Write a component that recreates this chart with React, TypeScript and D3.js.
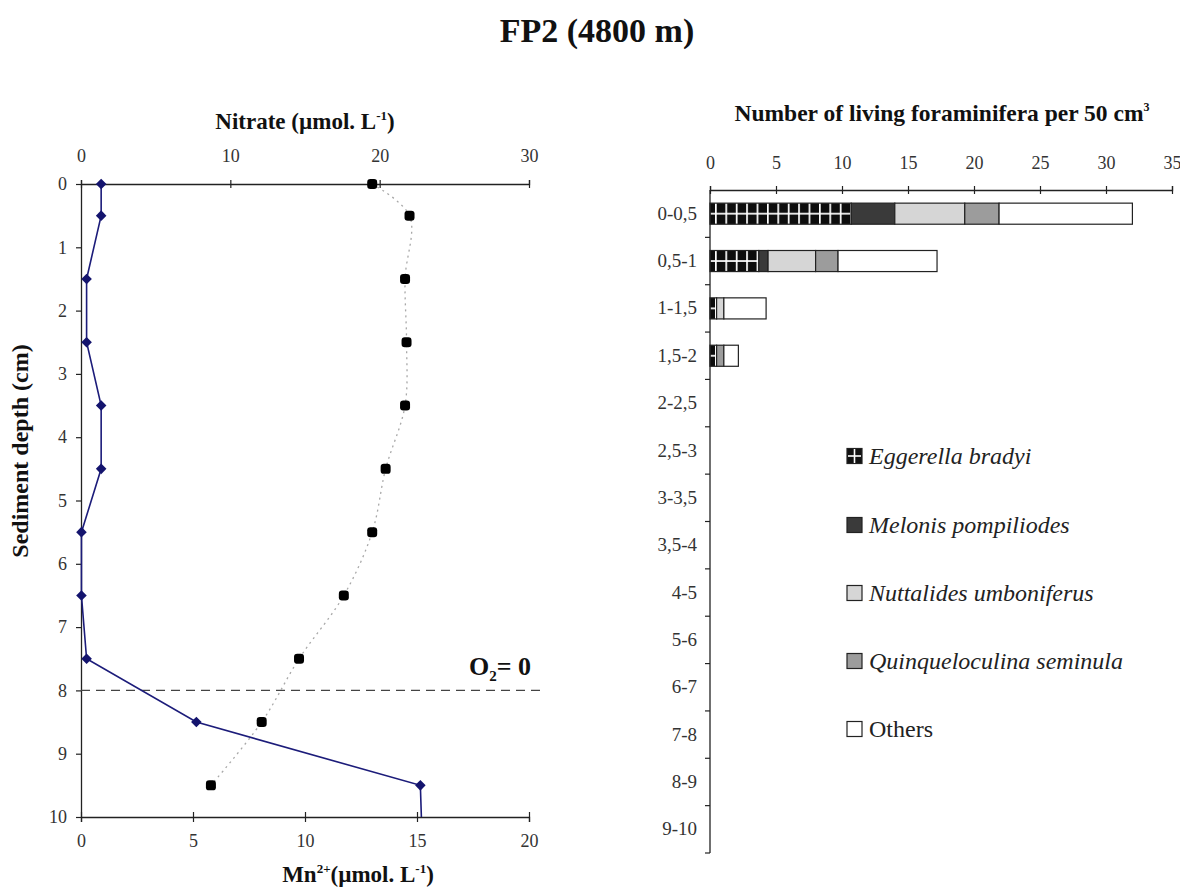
import React, { useEffect, useRef } from 'react';
import * as d3 from 'd3';

// ---------- Left panel data ----------
const nitrateDepths = [0, 0.5, 1.5, 2.5, 3.5, 4.5, 5.5, 6.5, 7.5, 8.5, 9.5];
const nitrateValues = [19.5, 22.0, 21.7, 21.8, 21.7, 20.4, 19.5, 17.6, 14.6, 12.1, 8.7];
const mnDepths = [0, 0.5, 1.5, 2.5, 3.5, 4.5, 5.5, 6.5, 7.5, 8.5, 9.5, 10.6];
const mnValues = [0.9, 0.9, 0.25, 0.25, 0.9, 0.9, 0.02, 0.02, 0.25, 5.15, 15.15, 15.25];
const nitrateTicks = [0, 10, 20, 30];
const mnTicks = [0, 5, 10, 15, 20];
const depthTicks = [0, 1, 2, 3, 4, 5, 6, 7, 8, 9, 10];
const oxygenZeroDepth = 8;

// ---------- Right panel data ----------
const intervals = ['0-0,5', '0,5-1', '1-1,5', '1,5-2', '2-2,5', '2,5-3', '3-3,5', '3,5-4', '4-5', '5-6', '6-7', '7-8', '8-9', '9-10'];
const eggerella = [10.7, 3.7, 0.5, 0.5, 0, 0, 0, 0, 0, 0, 0, 0, 0, 0];
const melonis = [3.3, 0.7, 0, 0, 0, 0, 0, 0, 0, 0, 0, 0, 0, 0];
const nuttalides = [5.3, 3.6, 0.55, 0, 0, 0, 0, 0, 0, 0, 0, 0, 0, 0];
const quinqueloculina = [2.6, 1.7, 0, 0.55, 0, 0, 0, 0, 0, 0, 0, 0, 0, 0];
const others = [10.1, 7.5, 3.2, 1.1, 0, 0, 0, 0, 0, 0, 0, 0, 0, 0];
const speciesKeys = ['egg', 'mel', 'nut', 'quin', 'oth'];
const speciesNames = ['Eggerella bradyi', 'Melonis pompiliodes', 'Nuttalides umboniferus', 'Quinqueloculina seminula', 'Others'];
const speciesItalic = [true, true, true, true, false];
const speciesColors = ['#111111', '#3a3a3a', '#d6d6d6', '#9c9c9c', '#ffffff'];
const foramTicks = [0, 5, 10, 15, 20, 25, 30, 35];

const FONT = '"Liberation Serif", "Times New Roman", serif';

export default function App() {
  const ref = useRef<SVGSVGElement | null>(null);

  useEffect(() => {
    const svg = d3.select(ref.current);
    svg.selectAll('*').remove();
    svg.attr('font-family', FONT);
    const defs = svg.append('defs');

    // Title
    svg.append('text').attr('x', 597).attr('y', 42).attr('text-anchor', 'middle')
      .attr('font-size', 34).attr('font-weight', 'bold').attr('fill', '#111').text('FP2 (4800 m)');

    // ===== Left panel =====
    const L = { x0: 81, x1: 529, y0: 184, y1: 817 };
    const yDepth = d3.scaleLinear().domain([0, 10]).range([L.y0, L.y1]);
    const xNit = d3.scaleLinear().domain([0, 30]).range([L.x0, L.x1]);
    const xMn = d3.scaleLinear().domain([0, 20]).range([L.x0, L.x1]);

    defs.append('clipPath').attr('id', 'leftclip').append('rect')
      .attr('x', L.x0 - 10).attr('y', L.y0 - 10).attr('width', L.x1 - L.x0 + 30).attr('height', L.y1 - L.y0 + 10);

    const styleAxis = (g: any, fs: number) => {
      g.attr('font-family', FONT);
      g.selectAll('path.domain').attr('stroke', '#222').attr('stroke-width', 1.3);
      g.selectAll('.tick line').attr('stroke', '#222').attr('stroke-width', 1.2);
      g.selectAll('.tick text').attr('font-family', FONT).attr('font-size', fs).attr('fill', '#333');
    };

    // left axis
    const gy = svg.append('g').attr('transform', `translate(${L.x0},0)`)
      .call(d3.axisLeft(yDepth).tickValues(depthTicks).tickFormat(d3.format('d')).tickSize(5).tickSizeOuter(0).tickPadding(9));
    styleAxis(gy, 18);

    // top axis nitrate
    const gt = svg.append('g').attr('transform', `translate(0,${L.y0})`)
      .call(d3.axisTop(xNit).tickValues(nitrateTicks).tickFormat(d3.format('d')).tickSize(4).tickSizeOuter(4).tickPadding(18));
    styleAxis(gt, 18);
    gt.selectAll('.tick line').attr('y2', 4).attr('y1', -4);

    // bottom axis Mn
    const gb = svg.append('g').attr('transform', `translate(0,${L.y1})`)
      .call(d3.axisBottom(xMn).tickValues(mnTicks).tickFormat(d3.format('d')).tickSize(5).tickSizeOuter(5).tickPadding(12));
    styleAxis(gb, 18);
    gb.selectAll('.tick line').attr('y1', -5).attr('y2', 5);

    // axis titles
    const nt = svg.append('text').attr('x', 305).attr('y', 129).attr('text-anchor', 'middle')
      .attr('font-size', 23).attr('font-weight', 'bold').attr('fill', '#111');
    nt.append('tspan').text('Nitrate (µmol. L');
    nt.append('tspan').attr('font-size', 13).attr('dy', -9).text('-1');
    nt.append('tspan').attr('dy', 9).text(')');

    const mt = svg.append('text').attr('x', 358).attr('y', 882).attr('text-anchor', 'middle')
      .attr('font-size', 23).attr('font-weight', 'bold').attr('fill', '#111');
    mt.append('tspan').text('Mn');
    mt.append('tspan').attr('font-size', 13).attr('dy', -9).text('2+');
    mt.append('tspan').attr('dy', 9).text('(µmol. L');
    mt.append('tspan').attr('font-size', 13).attr('dy', -9).text('-1');
    mt.append('tspan').attr('dy', 9).text(')');

    svg.append('text').attr('transform', `translate(28,${451}) rotate(-90)`).attr('text-anchor', 'middle')
      .attr('font-size', 24).attr('font-weight', 'bold').attr('fill', '#111').text('Sediment depth (cm)');

    // O2 = 0 dashed line
    svg.append('line').attr('x1', L.x0).attr('x2', 541)
      .attr('y1', yDepth(oxygenZeroDepth)).attr('y2', yDepth(oxygenZeroDepth))
      .attr('stroke', '#444').attr('stroke-width', 1.2).attr('stroke-dasharray', '9,6');
    const o2 = svg.append('text').attr('x', 469).attr('y', yDepth(oxygenZeroDepth) - 15)
      .attr('font-size', 26).attr('font-weight', 'bold').attr('fill', '#111');
    o2.append('tspan').text('O');
    o2.append('tspan').attr('font-size', 15).attr('dy', 6).text('2');
    o2.append('tspan').attr('dy', -6).text('= 0');

    const plot = svg.append('g').attr('clip-path', 'url(#leftclip)');

    // nitrate dotted smooth line
    const nitPts: [number, number][] = nitrateDepths.map((d, i) => [xNit(nitrateValues[i]), yDepth(d)]);
    plot.append('path').attr('d', d3.line().curve(d3.curveCatmullRom.alpha(0.5))(nitPts) as string)
      .attr('fill', 'none').attr('stroke', '#a8a8a8').attr('stroke-width', 1.3).attr('stroke-dasharray', '2,4');
    plot.selectAll('rect.nit').data(nitPts).enter().append('rect')
      .attr('x', (d) => d[0] - 5).attr('y', (d) => d[1] - 5).attr('width', 10).attr('height', 10)
      .attr('rx', 3.2).attr('fill', '#000');

    // Mn line
    const mnPts: [number, number][] = mnDepths.map((d, i) => [xMn(mnValues[i]), yDepth(d)]);
    plot.append('path').attr('d', d3.line()(mnPts) as string)
      .attr('fill', 'none').attr('stroke', '#1c1c7a').attr('stroke-width', 1.6);
    plot.selectAll('path.mn').data(mnPts.filter((p) => p[1] <= L.y1)).enter().append('path')
      .attr('d', d3.symbol().type(d3.symbolSquare).size(56) as any)
      .attr('transform', (d) => `translate(${d[0]},${d[1]}) rotate(45)`)
      .attr('fill', '#14146e');

    // ===== Right panel =====
    const R = { x0: 710, x1: 1172, y0: 190, y1: 853 };
    const xF = d3.scaleLinear().domain([0, 35]).range([R.x0, R.x1]);
    const yF = d3.scaleBand().domain(intervals).range([R.y0, R.y1]).paddingInner(0.555).paddingOuter(0.2775);
    const yFb = d3.scaleBand().domain(intervals).range([R.y0, R.y1]);

    const table = intervals.map((c, i) => ({
      cat: c, egg: eggerella[i], mel: melonis[i], nut: nuttalides[i], quin: quinqueloculina[i], oth: others[i],
    }));
    const stacked = d3.stack<any>().keys(speciesKeys)(table);
    const bh = yF.bandwidth();

    // patterns for Eggerella bars
    intervals.forEach((c, i) => {
      const p = defs.append('pattern').attr('id', `egg${i}`).attr('patternUnits', 'userSpaceOnUse')
        .attr('x', R.x0 + 5).attr('y', yF(c) as number).attr('width', 10.4).attr('height', bh);
      p.append('rect').attr('width', 10.4).attr('height', bh).attr('fill', '#0d0d0d');
      p.append('rect').attr('x', 0).attr('y', 0).attr('width', 1.7).attr('height', bh).attr('fill', '#fff');
      p.append('rect').attr('x', 0).attr('y', bh / 2 - 0.85).attr('width', 10.4).attr('height', 1.7).attr('fill', '#fff');
    });

    stacked.forEach((layer: any, k: number) => {
      svg.append('g').selectAll('rect').data(layer.filter((d: any) => d[1] - d[0] > 0)).enter().append('rect')
        .attr('x', (d: any) => xF(d[0])).attr('width', (d: any) => xF(d[1]) - xF(d[0]))
        .attr('y', (d: any) => yF(d.data.cat) as number).attr('height', bh)
        .attr('fill', (d: any) => (k === 0 ? `url(#egg${intervals.indexOf(d.data.cat)})` : speciesColors[k]))
        .attr('stroke', '#222').attr('stroke-width', 1.2);
    });

    // top axis
    const gft = svg.append('g').attr('transform', `translate(0,${R.y0})`)
      .call(d3.axisTop(xF).tickValues(foramTicks).tickFormat(d3.format('d')).tickSize(4).tickSizeOuter(4).tickPadding(17));
    styleAxis(gft, 18);
    gft.selectAll('.tick line').attr('y1', -4).attr('y2', 4);

    // left axis with ticks at band boundaries
    const gfl = svg.append('g').attr('transform', `translate(${R.x0},0)`)
      .call(d3.axisLeft(yF).tickSize(0).tickSizeOuter(0).tickPadding(13));
    styleAxis(gfl, 19);
    gfl.select('path.domain').attr('d', `M0,${R.y0}V${R.y1}`);
    svg.append('g').selectAll('line').data(intervals).enter().append('line')
      .attr('x1', R.x0 - 5).attr('x2', R.x0)
      .attr('y1', (c) => (yFb(c) as number) + yFb.bandwidth())
      .attr('y2', (c) => (yFb(c) as number) + yFb.bandwidth())
      .attr('stroke', '#222').attr('stroke-width', 1.2);

    const ft = svg.append('text').attr('x', 942).attr('y', 121).attr('text-anchor', 'middle')
      .attr('font-size', 23.5).attr('font-weight', 'bold').attr('fill', '#111');
    ft.append('tspan').text('Number of living foraminifera per 50 cm');
    ft.append('tspan').attr('font-size', 12).attr('dy', -10).text('3');

    // legend
    const legY = [456, 525, 593, 661, 729];
    speciesNames.forEach((name, k) => {
      const g = svg.append('g').attr('transform', `translate(847,${legY[k]})`);
      g.append('rect').attr('x', 0).attr('y', -7.5).attr('width', 15).attr('height', 15)
        .attr('fill', speciesColors[k]).attr('stroke', '#222').attr('stroke-width', 1.2);
      if (k === 0) {
        g.append('line').attr('x1', 7.5).attr('x2', 7.5).attr('y1', -7).attr('y2', 7).attr('stroke', '#fff').attr('stroke-width', 1.6);
        g.append('line').attr('x1', 1).attr('x2', 14).attr('y1', 0).attr('y2', 0).attr('stroke', '#fff').attr('stroke-width', 1.6);
      }
      g.append('text').attr('x', 22).attr('y', 8).attr('font-size', 24)
        .attr('font-style', speciesItalic[k] ? 'italic' : 'normal').attr('fill', '#222').text(name);
    });
  }, []);

  return (
    <svg ref={ref} width={1180} height={890} style={{ position: 'absolute', left: 0, top: 0, background: '#fff' }} />
  );
}
